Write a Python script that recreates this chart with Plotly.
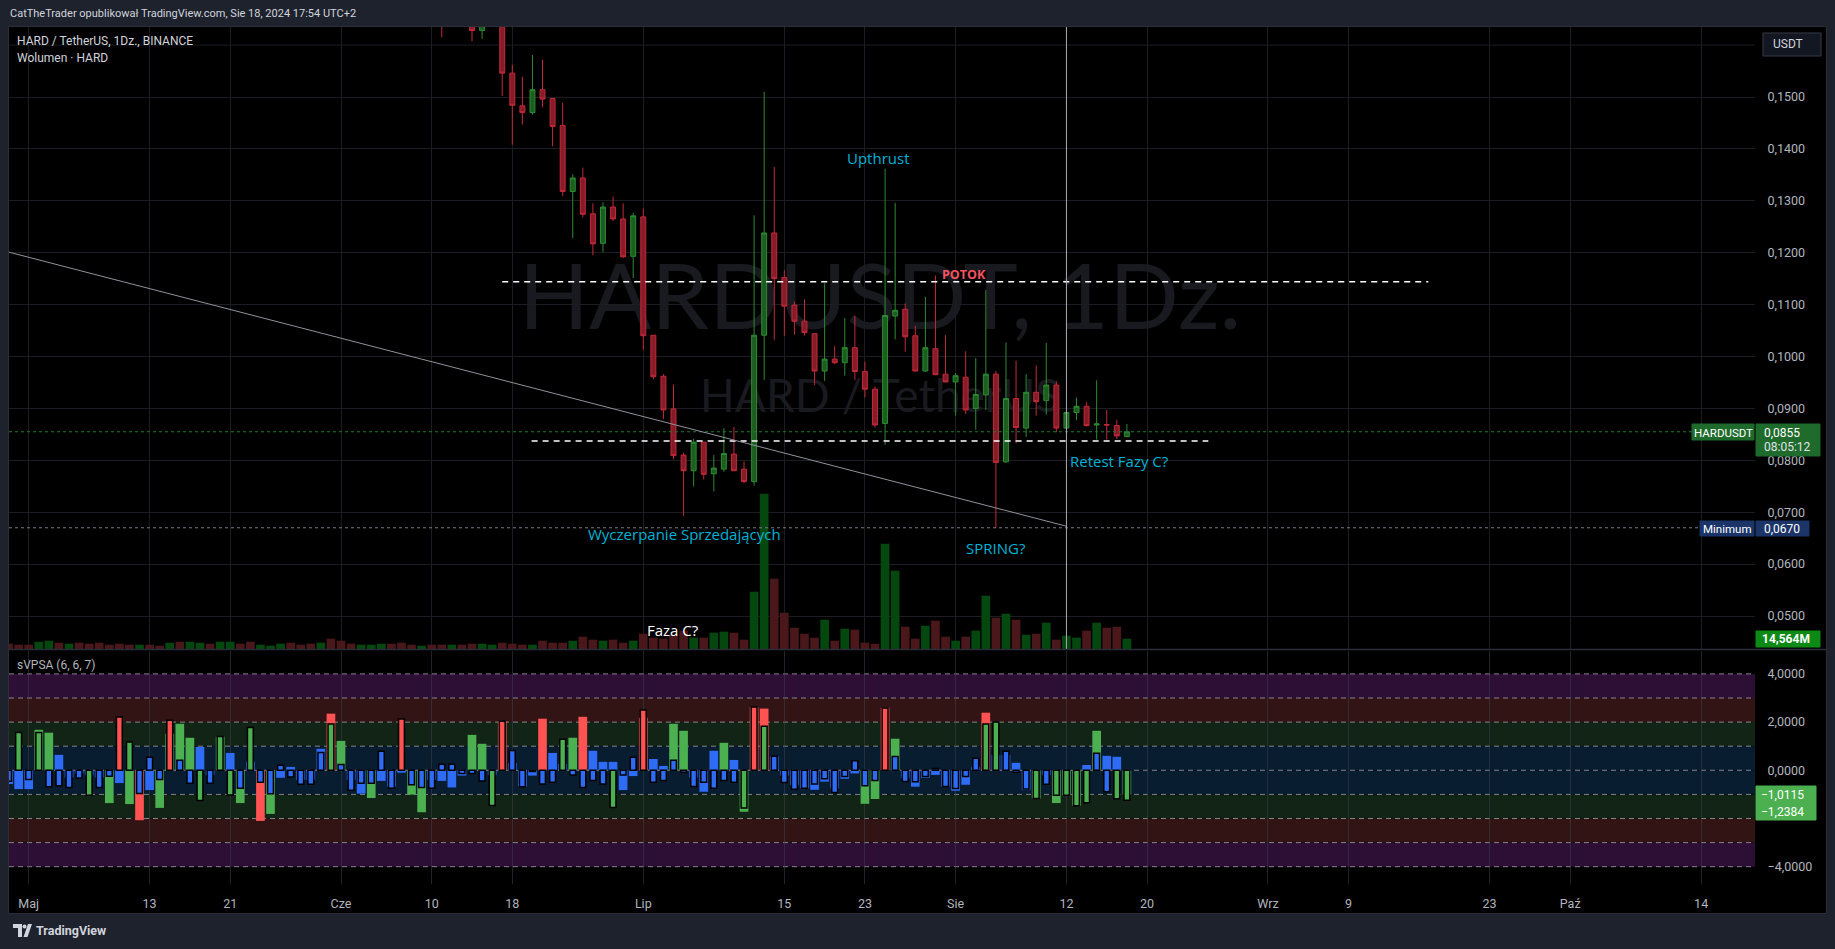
import plotly.graph_objects as go
import pandas as pd

W, H = 1835, 949

# ======================= DATA =======================
candle_start = "2024-06-11"
candle_open = [
    0.1680, 0.1650, 0.1670, 0.1650, 0.1628, 0.1645, 0.1655, 0.1546, 0.1483, 0.1470,
    0.1514, 0.1497, 0.1445, 0.1318, 0.1344, 0.1275, 0.1218, 0.1288, 0.1265, 0.1193,
    0.1269, 0.1041, 0.0962, 0.0899, 0.0810, 0.0780, 0.0835, 0.0774, 0.0783, 0.0812,
    0.0783, 0.0759, 0.1041, 0.1238, 0.1152, 0.1099, 0.1068, 0.1044, 0.0972, 0.0995,
    0.0988, 0.1017, 0.0971, 0.0937, 0.0871, 0.1078, 0.1091, 0.1040, 0.0972, 0.1015,
    0.0966,
    0.0951, 0.0960, 0.0900, 0.0926, 0.0966, 0.0797, 0.0919, 0.0862, 0.0931, 0.0915,
    0.0945, 0.0862, 0.0892, 0.0904, 0.0868, 0.0869, 0.0867, 0.0846]
candle_high = [
    0.1700, 0.1690, 0.1690, 0.1660, 0.1660, 0.1680, 0.1665, 0.1562, 0.1539, 0.1581,
    0.1572, 0.1497, 0.1489, 0.1351, 0.1364, 0.1295, 0.1297, 0.1308, 0.1295, 0.1277,
    0.1285, 0.1041, 0.0966, 0.0946, 0.0815, 0.0841, 0.0835, 0.0810, 0.0862, 0.0864,
    0.0798, 0.1272, 0.1510, 0.1365, 0.1166, 0.1106, 0.1110, 0.1044, 0.1141, 0.1020,
    0.1074, 0.1079, 0.0990, 0.0942, 0.1362, 0.1296, 0.1102, 0.1059, 0.1115, 0.1156,
    0.1041,
    0.0968, 0.1010, 0.0997, 0.1128, 0.0972, 0.1027, 0.0992, 0.0966, 0.0983, 0.1026,
    0.0952, 0.0895, 0.0921, 0.0912, 0.0954, 0.0897, 0.0878, 0.0870]
candle_low = [
    0.1615, 0.1636, 0.1645, 0.1607, 0.1612, 0.1636, 0.1502, 0.1408, 0.1447, 0.1466,
    0.1480, 0.1405, 0.1309, 0.1228, 0.1268, 0.1195, 0.1201, 0.1261, 0.1190, 0.1151,
    0.1013, 0.0956, 0.0879, 0.0802, 0.0693, 0.0750, 0.0763, 0.0740, 0.0778, 0.0779,
    0.0756, 0.0751, 0.0955, 0.1032, 0.1040, 0.1042, 0.1040, 0.0945, 0.0953, 0.0985,
    0.0963, 0.0955, 0.0921, 0.0863, 0.0830, 0.1033, 0.1009, 0.0971, 0.0971, 0.0964,
    0.0950,
    0.0886, 0.0889, 0.0859, 0.0897, 0.0670, 0.0795, 0.0833, 0.0845, 0.0886, 0.0888,
    0.0854, 0.0860, 0.0878, 0.0865, 0.0840, 0.0840, 0.0841, 0.0844]
candle_close = [
    0.1650, 0.1660, 0.1650, 0.1628, 0.1645, 0.1655, 0.1546, 0.1484, 0.1470, 0.1514,
    0.1496, 0.1443, 0.1318, 0.1344, 0.1274, 0.1217, 0.1288, 0.1265, 0.1192, 0.1271,
    0.1040, 0.0961, 0.0897, 0.0809, 0.0780, 0.0835, 0.0773, 0.0785, 0.0813, 0.0780,
    0.0759, 0.1041, 0.1238, 0.1150, 0.1097, 0.1068, 0.1046, 0.0972, 0.0995, 0.0988,
    0.1017, 0.0971, 0.0937, 0.0868, 0.1079, 0.1089, 0.1038, 0.0972, 0.1017, 0.0965,
    0.0951,
    0.0963, 0.0897, 0.0927, 0.0966, 0.0796, 0.0919, 0.0863, 0.0931, 0.0913, 0.0945,
    0.0862, 0.0892, 0.0904, 0.0867, 0.0870, 0.0868, 0.0847, 0.0855]

series_start = "2024-04-29"
volume_m = [
    7.5, 6.1,
    6.1, 10.3, 11.7, 8.9, 7.5, 8.9, 7.5, 8.9, 6.1, 7.5,
    6.1, 6.1, 6.1, 4.7, 8.9, 10.3, 10.3, 8.9, 7.5, 10.3,
    10.3, 7.5, 10.3, 6.1, 4.7, 7.5, 8.9, 6.1, 7.5, 8.9,
    14.6,
    11.7, 7.5, 6.1, 6.1, 7.5, 7.5, 8.9, 6.1, 4.7, 6.1,
    6.1, 6.1, 6.1, 7.5, 7.5, 6.1, 8.9, 7.5, 6.1, 6.1,
    11.7, 8.9, 8.9, 11.7, 17.4, 13.2, 11.7, 13.2, 8.9, 11.7,
    21.6, 16.0, 14.6, 20.2, 25.9, 16.0, 16.0, 23.0, 24.5, 23.0,
    13.2, 81.0, 219.6, 99.4, 51.3, 30.1, 21.6, 16.0, 41.4, 11.7,
    28.7, 27.3, 8.9, 7.5, 148.9, 110.7, 31.5, 14.6, 32.9, 40.0,
    17.4,
    11.7, 17.4, 25.9, 75.4, 44.3, 49.9, 41.4, 20.2, 21.6, 37.2,
    13.2, 18.8, 16.0, 25.9, 37.2, 30.1, 31.5, 14.564]
# direction of the volume bars before the first visible candle (u = up, d = down)
volume_dir_early = "dd" + "duududdddd" + "dudduduudu" + "udduuudddu" + "d" + "dduuudddud"

svpsa_fill = [
    -0.57, -0.78,
    -0.78, 1.68, 1.56, 0.64, -0.30, -0.13, -0.20, -0.30, -1.36, -0.53,
    -1.40, -2.07, -0.82, -1.56, 1.51, 1.93, 1.35, 0.97, -0.20, 1.40,
    0.72, -1.36, 0.36, -2.10, -1.81, -0.31, 0.14, -0.40, -0.40, 0.89,
    2.35,
    1.22, -0.40, -0.97, -1.15, -0.44, -0.68, -0.10, -1.01, -1.74, -0.40,
    -0.44, -0.71, -0.22, 1.47, 1.10, -0.20, 2.04, 0.30, -0.68, -0.22,
    2.14, 0.72, 0.26, 1.35, 2.22, 0.81, 0.35, 0.35, -0.82, -0.24,
    2.18, 0.47, 0.18, 1.93, 1.64, -0.30, -0.89, 0.81, 1.14, 0.43,
    -1.72, 2.62, 2.56, 0.58, -0.22, -0.61, -0.75, -0.81, -0.47, -0.75,
    -0.35, -0.13, -1.39, -1.19, 2.60, 1.31, -0.31, -0.68, -0.31, -0.19,
    -0.68,
    -0.85, -0.60, 0.14, 2.39, 0.64, 0.64, 0.31, -0.82, -1.17, -0.19,
    -1.36, -1.04, -1.47, 0.22, 1.64, 0.60, 0.56, -1.0115]
svpsa_fill_col = ("bb" + "bggbbbbbgb" + "grbggggbbg" + "bgbrgbbbbb" + "r"
                  + "gbbgbbbggb" + "bbbggbrbbb" + "rbbgrbbbbb"
                  + "rbbggbbbgb" + "grrbbbbbbb" + "bbggrgbbbb" + "b"
                  + "bbbrbbbbgb" + "gggbgbbg")
svpsa_line = [
    -0.45, 1.57,
    -0.38, 1.57, -0.68, -0.64, -0.71, -0.32, -1.04, -0.71, -0.25, 2.21,
    1.17, -0.96, 0.54, -0.38, 2.08, 0.42, -0.54, -1.25, -0.54, 1.40,
    -1.03, -0.75, 1.78, -0.50, -0.97, 0.21, -0.28, -0.58, -0.58, 0.74,
    1.92,
    0.24, -0.83, -0.54, -0.54, 0.79, -0.74, 2.13, -0.60, -0.71, -0.74,
    0.25, 0.25, -0.13, -0.13, -0.44, -1.46, 2.04, 0.82, -0.68, -0.05,
    -0.57, -0.50, 1.29, -0.19, -0.71, -0.42, -0.57, -1.54, -0.20, 0.54,
    2.50, -0.50, -0.42, 0.42, -0.08, -0.67, -0.50, -0.75, -0.42, -0.50,
    -1.56, 2.63, 1.83, 0.58, -0.51, -0.79, -0.75, -0.57, -0.35, -0.92,
    -0.26, 0.40, -0.64, -0.42, 2.58, 0.57, -0.46, -0.47, -0.26, 0.07,
    -0.67,
    -0.76, -0.26, 0.50, 1.92, 2.00, 0.79, -0.08, -0.78, -1.17, -0.58,
    -1.04, -1.04, -1.47, -1.35, 0.71, -0.89, -1.18, -1.2384]
svpsa_line_col = ("bg" + "bgbbbbgbbr" + "gbbbrbbgbg" + "gbgbbbbbbb" + "g"
                  + "bbbbbbrbbb" + "bbbbbgrbbb" + "bbgbbbbgbb"
                  + "rbbbbbbbbb" + "grgbbbbbbb" + "bbbbrbbbbb" + "b"
                  + "bbbggbbbgb" + "ggggbbgg")

tick_dates = ["2024-05-01", "2024-05-13", "2024-05-21", "2024-06-01", "2024-06-10",
              "2024-06-18", "2024-07-01", "2024-07-15", "2024-07-23", "2024-08-01",
              "2024-08-12", "2024-08-20", "2024-09-01", "2024-09-09", "2024-09-23",
              "2024-10-01", "2024-10-14"]
tick_text = ["Maj", "13", "21", "Cze", "10", "18", "Lip", "15", "23", "Sie",
             "12", "20", "Wrz", "9", "23", "Paź", "14"]
price_ticks = [0.05, 0.06, 0.07, 0.08, 0.09, 0.10, 0.11, 0.12, 0.13, 0.14, 0.15]
price_grid_extra = [0.16]   # grid line whose label is hidden behind the currency button
svpsa_ticks = [4, 2, 0, -4]
band_edges = [4, 3, 2, 1, 0, -1, -2, -3, -4]

last_price = 0.0855
min_price = 0.0670
potok_level = 0.1144
retest_level = 0.0837
trend_end = ("2024-08-12", 0.0673)
trend_start_price = 0.1201

# ======================= LAYOUT HELPERS =======================
def X(px):
    return px / W

def Y(py):
    return 1 - py / H

DAY_MS = 86400000
day0 = pd.Timestamp("2024-05-01")
PX0, PXD = 28.7, 10.075
PL, PR = 9, 1755
x_range = [(day0 + pd.Timedelta(days=(PL - PX0) / PXD)).floor("s"),
           (day0 + pd.Timedelta(days=(PR - PX0) / PXD)).floor("s")]
x_range_s = [t.strftime("%Y-%m-%d %H:%M:%S") for t in x_range]
P_TOP, P_BOT = 27, 649
price_range = [0.15 - (P_BOT - 97) / 5190, 0.15 + (97 - P_TOP) / 5190]
vol_top = (P_BOT - P_TOP) * (14.564 / 10.3)
I_TOP, I_BOT = 651, 884
ind_range = [(770.3 - I_BOT) / 24.1, (770.3 - I_TOP) / 24.1]

candle_dates = pd.date_range(candle_start, periods=len(candle_open), freq="D")
series_dates = pd.date_range(series_start, periods=len(volume_m), freq="D")

UP_VOL, DN_VOL = "#05480f", "#4a171b"
vol_dirs = list(volume_dir_early) + ["u" if c >= o else "d" for o, c in zip(candle_open, candle_close)]
vol_colors = [UP_VOL if d == "u" else DN_VOL for d in vol_dirs]

CMAP = {"b": "#2f6cf5", "g": "#4caf50", "r": "#ff5252"}
fill_colors = [CMAP[c] for c in svpsa_fill_col]
line_colors = [CMAP[c] for c in svpsa_line_col]

GRID = "#1b1d23"
GRID2 = "rgba(60,64,76,0.55)"
TXT = "#b2b5be"
UIF = "Roboto, Arial, sans-serif"
CYAN = "#00b2d6"

fig = go.Figure()

fig.add_trace(go.Bar(x=series_dates, y=volume_m, marker=dict(color=vol_colors, line=dict(width=0)),
                     width=0.86 * DAY_MS, xaxis="x", yaxis="y", hoverinfo="skip"))
fig.add_trace(go.Candlestick(
    x=candle_dates, open=candle_open, high=candle_high, low=candle_low, close=candle_close,
    xaxis="x", yaxis="y2", whiskerwidth=0,
    increasing=dict(fillcolor="#1b5e20", line=dict(color="#2e8b33", width=1)),
    decreasing=dict(fillcolor="#871c28", line=dict(color="#c22a3a", width=1)),
    hoverinfo="skip"))
fig.add_trace(go.Bar(x=series_dates, y=svpsa_fill, marker=dict(color=fill_colors, line=dict(width=0)),
                     width=0.86 * DAY_MS, xaxis="x2", yaxis="y3", hoverinfo="skip"))
fig.add_trace(go.Bar(x=series_dates, y=svpsa_line, marker=dict(color=line_colors, line=dict(color="#000000", width=1.5)),
                     width=0.58 * DAY_MS, xaxis="x2", yaxis="y3", hoverinfo="skip"))

shapes = []
# black chart panel
shapes.append(dict(type="rect", xref="paper", yref="paper", x0=X(9), x1=X(1826), y0=Y(913), y1=Y(27),
                   fillcolor="#000000", line=dict(width=0), layer="below"))
# watermarks
shapes.append(dict(type="rect", xref="paper", yref="paper", x0=X(380), x1=X(1380), y0=Y(345), y1=Y(240),
                   fillcolor="rgba(0,0,0,0)", line=dict(width=0), layer="below",
                   label=dict(text="HARDUSDT, 1Dz.", textposition="middle center",
                              font=dict(family="Lato, Roboto, sans-serif", size=92, color="#191a1f"))))
shapes.append(dict(type="rect", xref="paper", yref="paper", x0=X(600), x1=X(1160), y0=Y(420), y1=Y(366),
                   fillcolor="rgba(0,0,0,0)", line=dict(width=0), layer="below",
                   label=dict(text="HARD / TetherUS", textposition="middle center",
                              font=dict(family="Lato, Roboto, sans-serif", size=46, color="#191a1f"))))
# extra price grid line
for g in price_grid_extra:
    shapes.append(dict(type="line", xref="x domain", yref="y2", x0=0, x1=1, y0=g, y1=g,
                       line=dict(color=GRID, width=1), layer="below"))
# indicator bands
band_cols = ["#2d0f36", "#331415", "#122415", "#081d30", "#081d30", "#122415", "#331415", "#2d0f36"]
for i in range(len(band_edges) - 1):
    shapes.append(dict(type="rect", xref="x2 domain", yref="y3", x0=0, x1=1,
                       y0=band_edges[i + 1], y1=band_edges[i], fillcolor=band_cols[i],
                       line=dict(width=0), layer="below"))
for lv in band_edges:
    shapes.append(dict(type="line", xref="x2 domain", yref="y3", x0=0, x1=1, y0=lv, y1=lv,
                       line=dict(color="rgba(170,170,180,0.75)", width=1, dash="5px,4px"), layer="below"))
# price lines
shapes.append(dict(type="line", xref="x domain", yref="y2", x0=0, x1=1, y0=last_price, y1=last_price,
                   line=dict(color="#1f7d2d", width=1, dash="dot"), layer="above"))
shapes.append(dict(type="line", xref="x domain", yref="y2", x0=0, x1=1, y0=min_price, y1=min_price,
                   line=dict(color="#787b86", width=1, dash="dot"), layer="above"))
shapes.append(dict(type="line", xref="x", yref="y2", x0="2024-06-17", x1="2024-09-16 22:00",
                   y0=potok_level, y1=potok_level, line=dict(color="#ffffff", width=1.5, dash="6px,5px"), layer="above"))
shapes.append(dict(type="line", xref="x", yref="y2", x0="2024-06-19 22:00", x1="2024-08-26 02:00",
                   y0=retest_level, y1=retest_level, line=dict(color="#ffffff", width=1.5, dash="6px,5px"), layer="above"))
shapes.append(dict(type="line", xref="x", yref="y2", x0=x_range_s[0], x1=trend_end[0],
                   y0=trend_start_price, y1=trend_end[1], line=dict(color="#8f929b", width=1), layer="above"))
shapes.append(dict(type="line", xref="x", yref="y domain", x0="2024-08-12", x1="2024-08-12", y0=0, y1=1,
                   line=dict(color="#a9acb4", width=1), layer="above"))
# frame + separator
shapes.append(dict(type="rect", xref="paper", yref="paper", x0=X(8.5), x1=X(1826.5), y0=Y(913.5), y1=Y(26.5),
                   fillcolor="rgba(0,0,0,0)", line=dict(color="#2a2e39", width=1), layer="above"))
shapes.append(dict(type="line", xref="paper", yref="paper", x0=X(9), x1=X(1826), y0=Y(649.5), y1=Y(649.5),
                   line=dict(color="#2a2e39", width=1.5), layer="above"))

def box(x0, y0, x1, y1, fill, line=None):
    shapes.append(dict(type="rect", xref="paper", yref="paper", x0=X(x0), x1=X(x1), y0=Y(y1), y1=Y(y0),
                       fillcolor=fill, line=dict(color=line or fill, width=1), layer="above"))

box(1763, 33, 1821, 56, "#131722", "#363a45")
box(1692, 424, 1754, 440, "#1f6b2c")
box(1756, 424, 1820, 456, "#1f6b2c")
box(1700, 521, 1754, 536, "#1b3568")
box(1756, 521, 1809, 536, "#1b3568")
box(1756, 631, 1820, 647, "#0c8a15")
box(1756, 786, 1816, 820, "#4caf50")

# TradingView logo (footer)
def path(pts):
    return "M" + " L".join(f"{X(a):.6f},{Y(b):.6f}" for a, b in pts) + " Z"

shapes.append(dict(type="path", xref="paper", yref="paper",
                   path=path([(13, 924), (22, 924), (22, 937), (18, 937), (18, 928), (13, 928)]),
                   fillcolor="#d1d4dc", line=dict(width=0), layer="above"))
shapes.append(dict(type="circle", xref="paper", yref="paper", x0=X(22.5), x1=X(26.5), y0=Y(928.5), y1=Y(924.5),
                   fillcolor="#d1d4dc", line=dict(width=0), layer="above"))
shapes.append(dict(type="path", xref="paper", yref="paper",
                   path=path([(23.5, 937), (28, 924), (32, 924), (27.5, 937)]),
                   fillcolor="#d1d4dc", line=dict(width=0), layer="above"))

anns = []

def txt(t, px, py, size=12, color=TXT, xa="left", family=UIF, ya="middle"):
    anns.append(dict(text=t, x=X(px), y=Y(py), xref="paper", yref="paper", showarrow=False,
                     xanchor=xa, yanchor=ya, font=dict(size=size, color=color, family=family)))

txt("CatTheTrader opublikował TradingView.com, Sie 18, 2024 17:54 UTC+2", 8, 13, 11, "#d1d4dc")
txt("HARD / TetherUS, 1Dz., BINANCE", 15, 41, 12, "#d1d4dc")
txt("Wolumen · HARD", 15, 58, 12, "#d1d4dc")
txt("sVPSA (6, 6, 7)", 15, 665, 12, TXT)
DF = "Open Sans, Noto Sans, sans-serif"
txt("Upthrust", 878, 158, 15, CYAN, "center", DF)
txt("<b>POTOK</b>", 964, 274, 12.5, "#f7525f", "center", DF)
txt("Retest Fazy C?", 1119, 461, 15, CYAN, "center", DF)
txt("SPRING?", 996, 548, 15, CYAN, "center", DF)
txt("Wyczerpanie Sprzedających", 684, 534, 15, CYAN, "center", DF)
txt("Faza C?", 673, 630, 15, "#ffffff", "center", DF)
txt("USDT", 1771, 44.5, 12, "#d1d4dc")
txt("HARDUSDT", 1723, 432.5, 11.5, "#ffffff", "center")
txt("0,0855", 1762, 432.5, 12, "#ffffff")
txt("08:05:12", 1762, 447, 12, "#e0e3eb")
txt("Minimum", 1727, 528.5, 11.5, "#ffffff", "center")
txt("0,0670", 1762, 528.5, 12, "#ffffff")
txt("<b>14,564M</b>", 1760, 639, 12, "#ffffff")
txt("−1,0115", 1759, 794.5, 12, "#ffffff")
txt("−1,2384", 1759, 811.5, 12, "#ffffff")
txt("<b>TradingView</b>", 34, 930.5, 12.5, "#d1d4dc")

fig.update_layout(
    width=W, height=H, margin=dict(l=0, r=0, t=0, b=0),
    paper_bgcolor="#1e222d", plot_bgcolor="rgba(0,0,0,0)",
    showlegend=False, barmode="overlay", separators=", ",
    font=dict(family=UIF, color=TXT, size=12),
    xaxis=dict(domain=[X(PL), X(PR)], anchor="y", type="date", range=x_range_s,
               tickvals=tick_dates, showticklabels=False, showgrid=True, gridcolor=GRID,
               gridwidth=1, zeroline=False, showline=False, ticks="",
               rangeslider=dict(visible=False), fixedrange=True),
    yaxis=dict(domain=[Y(P_BOT), Y(P_TOP)], anchor="x", range=[0, vol_top], visible=False,
               fixedrange=True),
    yaxis2=dict(overlaying="y", anchor="x", side="right", range=price_range,
                tickvals=price_ticks, tickformat=".4f", showgrid=True, gridcolor=GRID,
                zeroline=False, showline=False, ticks="outside", ticklen=9,
                tickcolor="rgba(0,0,0,0)", tickfont=dict(size=12.5, color=TXT), fixedrange=True),
    xaxis2=dict(domain=[X(PL), X(PR)], anchor="y3", type="date", range=x_range_s,
                tickvals=tick_dates, ticktext=tick_text, showgrid=True, gridcolor=GRID2,
                zeroline=False, showline=False, ticks="outside", ticklen=8,
                tickcolor="rgba(0,0,0,0)", tickfont=dict(size=12.5, color=TXT), fixedrange=True),
    yaxis3=dict(domain=[Y(I_BOT), Y(I_TOP)], anchor="x2", side="right", range=ind_range,
                tickvals=svpsa_ticks, tickformat=".4f", showgrid=False, zeroline=False,
                showline=False, ticks="outside", ticklen=9, tickcolor="rgba(0,0,0,0)",
                tickfont=dict(size=12.5, color=TXT), fixedrange=True),
    shapes=shapes, annotations=anns,
)

fig.write_html("out.html")
